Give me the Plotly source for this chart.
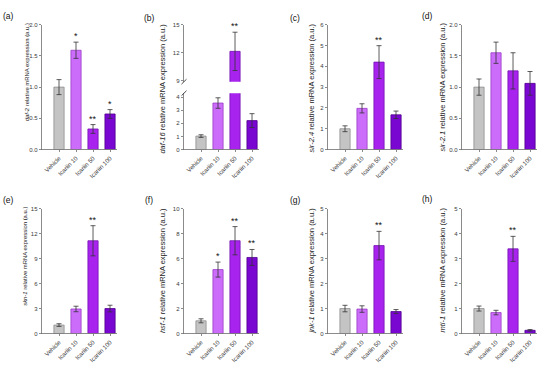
import plotly.graph_objects as go

# ---------------- data ----------------
categories = ["Vehicle", "Icariin 10", "Icariin 50", "Icariin 100"]
panel_labels = ["(a)", "(b)", "(c)", "(d)", "(e)", "(f)", "(g)", "(h)"]
genes = ["daf-2", "daf-16", "sir-2.4", "sir-2.1", "skn-1", "hsf-1", "jnk-1", "mtl-1"]

daf2_mean = [1.00, 1.59, 0.33, 0.57]
daf2_err = [0.12, 0.13, 0.07, 0.07]
daf2_sig = ["", "*", "**", "*"]

daf16_mean = [1.03, 3.55, 12.14, 2.21]
daf16_err = [0.10, 0.40, 2.05, 0.53]
daf16_sig = ["", "", "**", ""]

sir24_mean = [1.00, 1.98, 4.20, 1.67]
sir24_err = [0.14, 0.22, 0.79, 0.18]
sir24_sig = ["", "", "**", ""]

sir21_mean = [1.00, 1.55, 1.26, 1.06]
sir21_err = [0.13, 0.17, 0.29, 0.19]
sir21_sig = ["", "", "", ""]

skn1_mean = [1.02, 2.95, 11.14, 3.00]
skn1_err = [0.16, 0.33, 1.81, 0.40]
skn1_sig = ["", "", "**", ""]

hsf1_mean = [1.02, 5.12, 7.43, 6.09]
hsf1_err = [0.16, 0.60, 1.13, 0.64]
hsf1_sig = ["", "*", "**", "**"]

jnk1_mean = [1.00, 0.98, 3.52, 0.88]
jnk1_err = [0.13, 0.13, 0.57, 0.08]
jnk1_sig = ["", "", "**", ""]

mtl1_mean = [1.00, 0.84, 3.39, 0.13]
mtl1_err = [0.10, 0.09, 0.50, 0.03]
mtl1_sig = ["", "", "**", ""]

means = [daf2_mean, daf16_mean, sir24_mean, sir21_mean,
         skn1_mean, hsf1_mean, jnk1_mean, mtl1_mean]
errs = [daf2_err, daf16_err, sir24_err, sir21_err,
        skn1_err, hsf1_err, jnk1_err, mtl1_err]
sigs = [daf2_sig, daf16_sig, sir24_sig, sir21_sig,
        skn1_sig, hsf1_sig, jnk1_sig, mtl1_sig]

y_max = [2.0, 4.3, 6, 2.0, 15, 10, 5, 5]
y_step = [0.5, 1, 1, 0.5, 3, 2, 1, 1]
y_fmt = [".1f", "d", "d", ".1f", "d", "d", "d", "d"]
daf16_upper_range = [8.9, 15]
daf16_upper_ticks = [9, 12, 15]

# ---------------- style ----------------
W, H = 550, 370
FONT = "Arial, Liberation Sans, Helvetica, sans-serif"
AX = "#6e6e6e"
TXT = "#3a3a3a"
fills = ["#c4c4c4", "#cc6cfa", "#a824ee", "#7a06d2"]
edges = ["#8e8e8e", "#9a3fc8", "#7412b4", "#52008f"]

col_px = [(42, 117), (184, 259), (328, 403), (462, 537)]
row_px = [(22, 149), (209, 336)]
title_px = [(26.5, 71), (163, 87), (312, 87), (443, 86),
            (25, 258), (162.5, 272), (312, 272), (443, 272)]
title_size = [5.9, 7.5, 7.5, 7.5, 5.9, 7.5, 7.5, 7.5]
label_px = [(8, 13), (149, 15), (295, 15), (427, 13),
            (8, 200), (149, 200), (295, 200), (427, 199)]


def fx(p):
    return p / W


def fy(p):
    return 1 - p / H


xs = list(range(len(categories)))
fig = go.Figure()
layout = {}
annotations = []
shapes = []


def frange(a, b, s):
    out = []
    v = a
    while v <= b + 1e-9:
        out.append(round(v, 6))
        v += s
    return out


for i in range(8):
    n = i + 1
    r, c = divmod(i, 4)
    x0, x1 = col_px[c]
    y0, y1 = row_px[r]
    yd_top = y0
    if i == 1:
        # lower part of broken axis
        yd_top = y1 - 4.3 * (y1 - 95.7) / 4.0
    fig.add_trace(go.Bar(
        x=xs, y=means[i], width=0.6,
        marker=dict(color=fills, line=dict(color=edges, width=0.8)),
        error_y=dict(type="data", array=errs[i], color="#333333",
                     thickness=0.8, width=2.5),
        xaxis=f"x{n}", yaxis=f"y{n}", showlegend=False,
        hoverinfo="skip"))
    tv = frange(0, y_max[i], y_step[i]) if i != 1 else [0, 1, 2, 3, 4]
    layout[f"xaxis{n}"] = dict(
        domain=[fx(x0), fx(x1)], anchor=f"y{n}", range=[-1, 3.41],
        tickvals=xs, ticktext=categories, tickangle=-45,
        tickfont=dict(size=6.1, color=TXT, family=FONT),
        showline=True, linecolor=AX, linewidth=0.8,
        ticks="outside", ticklen=2, tickcolor=AX, tickwidth=0.8,
        showgrid=False, zeroline=False)
    layout[f"yaxis{n}"] = dict(
        domain=[fy(y1), fy(yd_top)], anchor=f"x{n}",
        range=[0, y_max[i]], tickvals=tv, tickformat=y_fmt[i],
        tickfont=dict(size=6, color=TXT, family=FONT),
        showline=True, linecolor=AX, linewidth=0.8,
        ticks="outside", ticklen=2.5, tickcolor=AX, tickwidth=0.8,
        showgrid=False, zeroline=False)
    # significance marks
    for j, s in enumerate(sigs[i]):
        if s and not (i == 1 and j == 2):
            annotations.append(dict(
                x=xs[j], y=means[i][j] + errs[i][j], xref=f"x{n}", yref=f"y{n}",
                text=s, showarrow=False, yanchor="bottom", yshift=-1,
                font=dict(size=9, color="#111", family=FONT)))
    # y title
    tx, ty = title_px[i]
    annotations.append(dict(
        x=fx(tx), y=fy(ty), xref="paper", yref="paper", textangle=-90,
        text=f"<i>{genes[i]}</i> relative mRNA expression (a.u.)",
        showarrow=False, xanchor="center", yanchor="middle",
        font=dict(size=title_size[i], color="#222", family=FONT)))
    lx, ly = label_px[i]
    annotations.append(dict(
        x=fx(lx), y=fy(ly), xref="paper", yref="paper", text=panel_labels[i],
        showarrow=False, xanchor="center", yanchor="middle",
        font=dict(size=8.5, color="#111", family=FONT)))

# upper part of the broken daf-16 axis
fig.add_trace(go.Bar(
    x=[xs[2]], y=[daf16_mean[2]], width=0.6,
    marker=dict(color=fills[2], line=dict(color=edges[2], width=0.8)),
    error_y=dict(type="data", array=[daf16_err[2]], color="#333333",
                 thickness=0.8, width=2.5),
    xaxis="x9", yaxis="y9", showlegend=False, hoverinfo="skip"))
x0, x1 = col_px[1]
upper_bottom = 22 + (15 - 8.9) * 9.5
layout["xaxis9"] = dict(domain=[fx(x0), fx(x1)], anchor="y9", range=[-1, 3.41],
                        visible=False)
layout["yaxis9"] = dict(
    domain=[fy(upper_bottom), fy(22)], anchor="x9", range=daf16_upper_range,
    tickvals=daf16_upper_ticks, tickfont=dict(size=6, color=TXT, family=FONT),
    showline=True, linecolor=AX, linewidth=0.8,
    ticks="outside", ticklen=2.5, tickcolor=AX, tickwidth=0.8,
    showgrid=False, zeroline=False)
annotations.append(dict(
    x=xs[2], y=daf16_mean[2] + daf16_err[2], xref="x9", yref="y9",
    text=daf16_sig[2], showarrow=False, yanchor="bottom", yshift=-1,
    font=dict(size=9, color="#111", family=FONT)))

# break marks
lower_top = 149 - 4.3 * 13.33
for yc in (upper_bottom, lower_top):
    shapes.append(dict(type="line", xref="paper", yref="paper",
                       x0=fx(x0 - 2.5), x1=fx(x0 + 2.5),
                       y0=fy(yc + 2.5), y1=fy(yc - 2.5),
                       line=dict(color="#333", width=0.9)))

fig.update_layout(
    width=W, height=H, margin=dict(l=0, r=0, t=0, b=0),
    paper_bgcolor="white", plot_bgcolor="white",
    font=dict(family=FONT, color=TXT), bargap=0.4, hovermode=False,
    annotations=annotations, shapes=shapes, **layout)

fig.write_html("out.html", config={"displayModeBar": False, "staticPlot": True},
               post_script="document.body.style.margin='0';"
                           "document.body.style.overflow='hidden';")
